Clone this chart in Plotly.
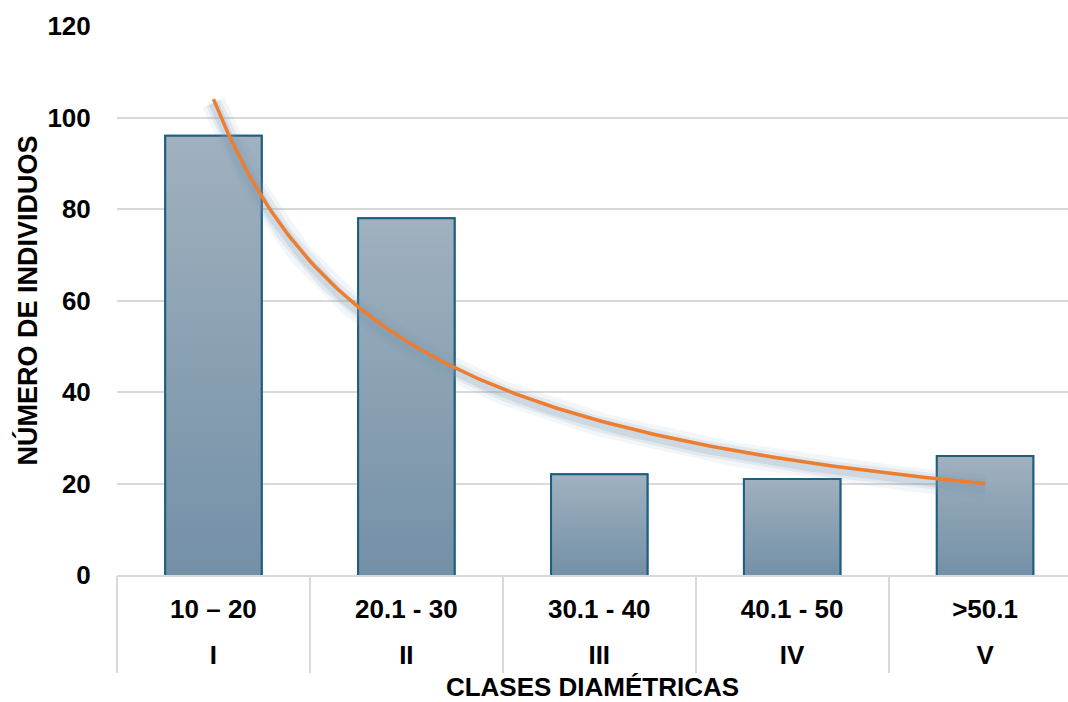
import numpy as np
import plotly.graph_objects as go

# Diameter classes and their ranges in cm
clases = ["I", "II", "III", "IV", "V"]
rangos = ["10 – 20", "20.1 - 30", "30.1 - 40", "40.1 - 50", ">50.1"]
individuos = [96, 78, 22, 21, 26]
y_ticks = [0, 20, 40, 60, 80, 100, 120]

# Power trendline y = a * x^b, least squares in log space (x = 1..n)
xi = np.arange(1, len(individuos) + 1)
b, ln_a = np.polyfit(np.log(xi), np.log(individuos), 1)
a = np.exp(ln_a)
xs = np.linspace(1, len(individuos), 200)
ys = a * xs ** b

FONT = "Liberation Sans, Arial, sans-serif"
BAR_EDGE = "#1f5e7e"
GRID = "#d9d9d9"
X_RANGE = [-0.5, 4.43]
H, TOP = 702, 26
PLOT_BOTTOM_PX = 575
ROW2_LINE_PX = 637
DIVIDER_LEN = 97

def paper_y(px):
    return (H - px) / (H - TOP)

fig = go.Figure()

# Bars on the category axis (ranges)
fig.add_trace(go.Bar(
    x=rangos, y=individuos, width=0.5,
    marker=dict(color="#8aa0b3", line=dict(color=BAR_EDGE, width=2)),
    showlegend=False, hoverinfo="x+y",
))

# Vertical gradient fill for each bar (light top, darker base)
for i, v in enumerate(individuos):
    fig.add_trace(go.Scatter(
        x=[i - 0.25, i - 0.25, i + 0.25, i + 0.25], y=[0, v, v, 0],
        mode="lines", fill="toself",
        fillgradient=dict(type="vertical",
                          colorscale=[[0, "#7490a7"], [1, "#a0b1bf"]],
                          start=0, stop=v),
        line=dict(color=BAR_EDGE, width=2),
        xaxis="x2", showlegend=False, hoverinfo="skip",
    ))

# Soft glow beneath the trendline
for w, alpha in [(24, 0.09), (16, 0.14), (10, 0.20)]:
    fig.add_trace(go.Scatter(
        x=xs - 1, y=ys - 0.8, mode="lines",
        line=dict(color=f"rgba(120,155,180,{alpha})", width=w),
        xaxis="x3", showlegend=False, hoverinfo="skip",
    ))

fig.add_trace(go.Scatter(
    x=xs - 1, y=ys, mode="lines",
    line=dict(color="#ed7d31", width=3.5),
    xaxis="x3", showlegend=False, hoverinfo="skip",
))

tick_font = dict(family=FONT, size=26, color="#000000", weight="bold")

fig.update_layout(
    width=1068, height=H,
    margin=dict(l=117, r=0, t=TOP, b=0, autoexpand=False),
    paper_bgcolor="white", plot_bgcolor="white",
    font=dict(family=FONT, color="#000000"),
    xaxis=dict(
        type="category", range=X_RANGE,
        showline=True, linecolor=GRID, linewidth=2,
        showgrid=False, ticks="",
        tickfont=tick_font, ticklabelstandoff=10,
        automargin=False,
    ),
    # linear overlay: gradient fills, with class dividers as boundary ticks
    xaxis2=dict(
        overlaying="x", anchor="y", range=X_RANGE,
        showgrid=False, zeroline=False, showline=False,
        showticklabels=False,
        tickmode="linear", tick0=-0.5, dtick=1,
        ticks="outside", ticklen=DIVIDER_LEN, tickwidth=2, tickcolor=GRID,
        automargin=False,
    ),
    # second label row (class numerals) and axis title
    xaxis3=dict(
        overlaying="x", anchor="free", position=paper_y(ROW2_LINE_PX),
        range=X_RANGE, tickvals=list(range(len(clases))), ticktext=clases,
        showgrid=False, zeroline=False, showline=False, ticks="",
        tickfont=tick_font,
        title=dict(text="<b>CLASES DIAMÉTRICAS</b>",
                   font=dict(family=FONT, size=26, color="#000000"),
                   standoff=21),
        automargin=False,
    ),
    yaxis=dict(
        domain=[paper_y(PLOT_BOTTOM_PX), 1],
        range=[0, 120], tickvals=y_ticks,
        showgrid=True, gridcolor=GRID, gridwidth=2,
        zeroline=False, showline=False,
        ticks="outside", ticklen=20, tickcolor="rgba(0,0,0,0)",
        tickfont=tick_font,
        title=dict(text="<b>NÚMERO DE INDIVIDUOS</b>",
                   font=dict(family=FONT, size=27, color="#000000"),
                   standoff=1),
        automargin=False,
    ),
)

fig.write_html("out.html")
